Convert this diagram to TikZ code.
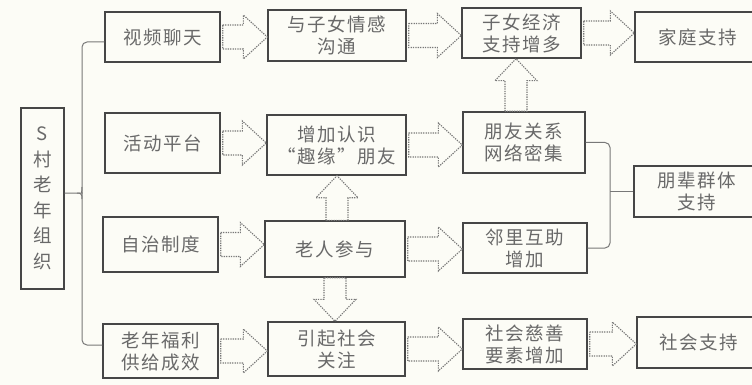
\documentclass[tikz,border=0pt]{standalone}
\usepackage{fontspec}
\newfontfamily\cjk[LetterSpace=8]{Noto Sans CJK SC}
\usetikzlibrary{calc}
\definecolor{bgc}{RGB}{252,252,246}
\definecolor{boxc}{RGB}{70,70,70}
\definecolor{txtc}{RGB}{105,105,105}
\definecolor{arrc}{RGB}{120,120,120}
\definecolor{lnc}{RGB}{120,120,120}
\tikzset{
  box/.style={draw=boxc, line width=1.4pt, text=txtc, align=center, inner sep=0pt,
    font=\cjk\fontsize{18.5}{22}\selectfont},
  blk/.style={draw=arrc, line width=1.1pt, dash pattern=on 1.3pt off 1.1pt, line join=miter},
  bracel/.style={draw=lnc, line width=1pt, rounded corners=5pt}
}
\newcommand\harr[2]{\draw[blk] let \p1=($(#1.east)+(2,0)$), \p2=(#2.west) in
  (\x1,\y1+12pt) -- (\x2-24pt,\y1+12pt) -- (\x2-24pt,\y1+22pt) -- (\x2,\y1)
  -- (\x2-24pt,\y1-22pt) -- (\x2-24pt,\y1-12pt) -- (\x1,\y1-12pt) -- cycle;}
\newcommand\uarr[3]{\draw[blk] let \p1=($(#1.north)+(#3,0)$), \p2=(#2.south) in
  (\x1-11pt,\y1) -- (\x1-11pt,\y2-22pt) -- (\x1-21pt,\y2-22pt) -- (\x1,\y2)
  -- (\x1+21pt,\y2-22pt) -- (\x1+11pt,\y2-22pt) -- (\x1+11pt,\y1) -- cycle;}
\newcommand\darr[3]{\draw[blk] let \p1=($(#1.south)+(#3,0)$), \p2=(#2.north) in
  (\x1-11pt,\y1) -- (\x1-11pt,\y2+22pt) -- (\x1-21pt,\y2+22pt) -- (\x1,\y2)
  -- (\x1+21pt,\y2+22pt) -- (\x1+11pt,\y2+22pt) -- (\x1+11pt,\y1) -- cycle;}
\begin{document}
\begin{tikzpicture}[x=1pt,y=-1pt]
\fill[bgc] (0,0) rectangle (752,385);
\useasboundingbox (0,0) rectangle (752,385);

\node[box, minimum width=43pt, minimum height=181pt, font=\cjk\fontsize{18.5}{25.5}\selectfont] (S) at (42.5,198.5) {S\\村\\老\\年\\组\\织};

\node[box, minimum width=115pt, minimum height=50pt] (a1) at (162.5,37) {视频聊天};
\node[box, minimum width=115pt, minimum height=60pt] (a2) at (162.5,143) {活动平台};
\node[box, minimum width=115pt, minimum height=55pt] (a3) at (160.5,244.5) {自治制度};
\node[box, minimum width=115pt, minimum height=54pt] (a4) at (160.5,351) {老年福利\\供给成效};

\node[box, minimum width=138pt, minimum height=51pt] (b1) at (337,35.5) {与子女情感\\沟通};
\node[box, minimum width=139pt, minimum height=60pt] (b2) at (336.5,145) {增加认识\\“趣缘”朋友};
\node[box, minimum width=140pt, minimum height=56pt] (b3) at (335,249) {老人参与};
\node[box, minimum width=137pt, minimum height=54pt] (b4) at (336.5,349) {引起社会\\关注};

\node[box, minimum width=119pt, minimum height=50pt] (c1) at (521.5,33) {子女经济\\支持增多};
\node[box, minimum width=122pt, minimum height=61pt] (c2) at (524,142.5) {朋友关系\\网络密集};
\node[box, minimum width=124pt, minimum height=50pt] (c3) at (525,248) {邻里互助\\增加};
\node[box, minimum width=124pt, minimum height=50pt] (c4) at (525,344) {社会慈善\\要素增加};

\node[box, minimum width=125pt, minimum height=50pt] (d1) at (697.5,37) {家庭支持};
\node[box, minimum width=126pt, minimum height=51pt] (d2) at (697,191.5) {朋辈群体\\支持};
\node[box, minimum width=123pt, minimum height=51pt] (d3) at (698.5,342.5) {社会支持};

% left brace
\coordinate (lmid) at (82,193);
\draw[bracel] ($(a1.west)+(0,5)$) -| (lmid) |- ($(a4.west)+(0,-6)$);
\draw[bracel] ($(S.east)+(0,-5.5)$) -- (77,193) .. controls (81,193) and (82,192) .. (82,187);
\draw[bracel] (77,193) .. controls (81,193) and (82,194) .. (82,199);

% right brace
\coordinate (rmid) at (610,191.5);
\draw[bracel] (c2.east) -| (rmid);
\draw[bracel] (c3.east) -| (rmid);
\draw[bracel] (rmid) -- (d2.west);

% hollow arrows
\harr{a1}{b1}
\harr{a2}{b2}
\harr{a3}{b3}
\harr{a4}{b4}
\harr{b1}{c1}
\harr{b2}{c2}
\harr{b3}{c3}
\harr{b4}{c4}
\harr{c1}{d1}
\harr{c4}{d3}
\uarr{b3}{b2}{2}
\darr{b3}{b4}{0}
\uarr{c2}{c1}{-8}
\end{tikzpicture}
\end{document}
